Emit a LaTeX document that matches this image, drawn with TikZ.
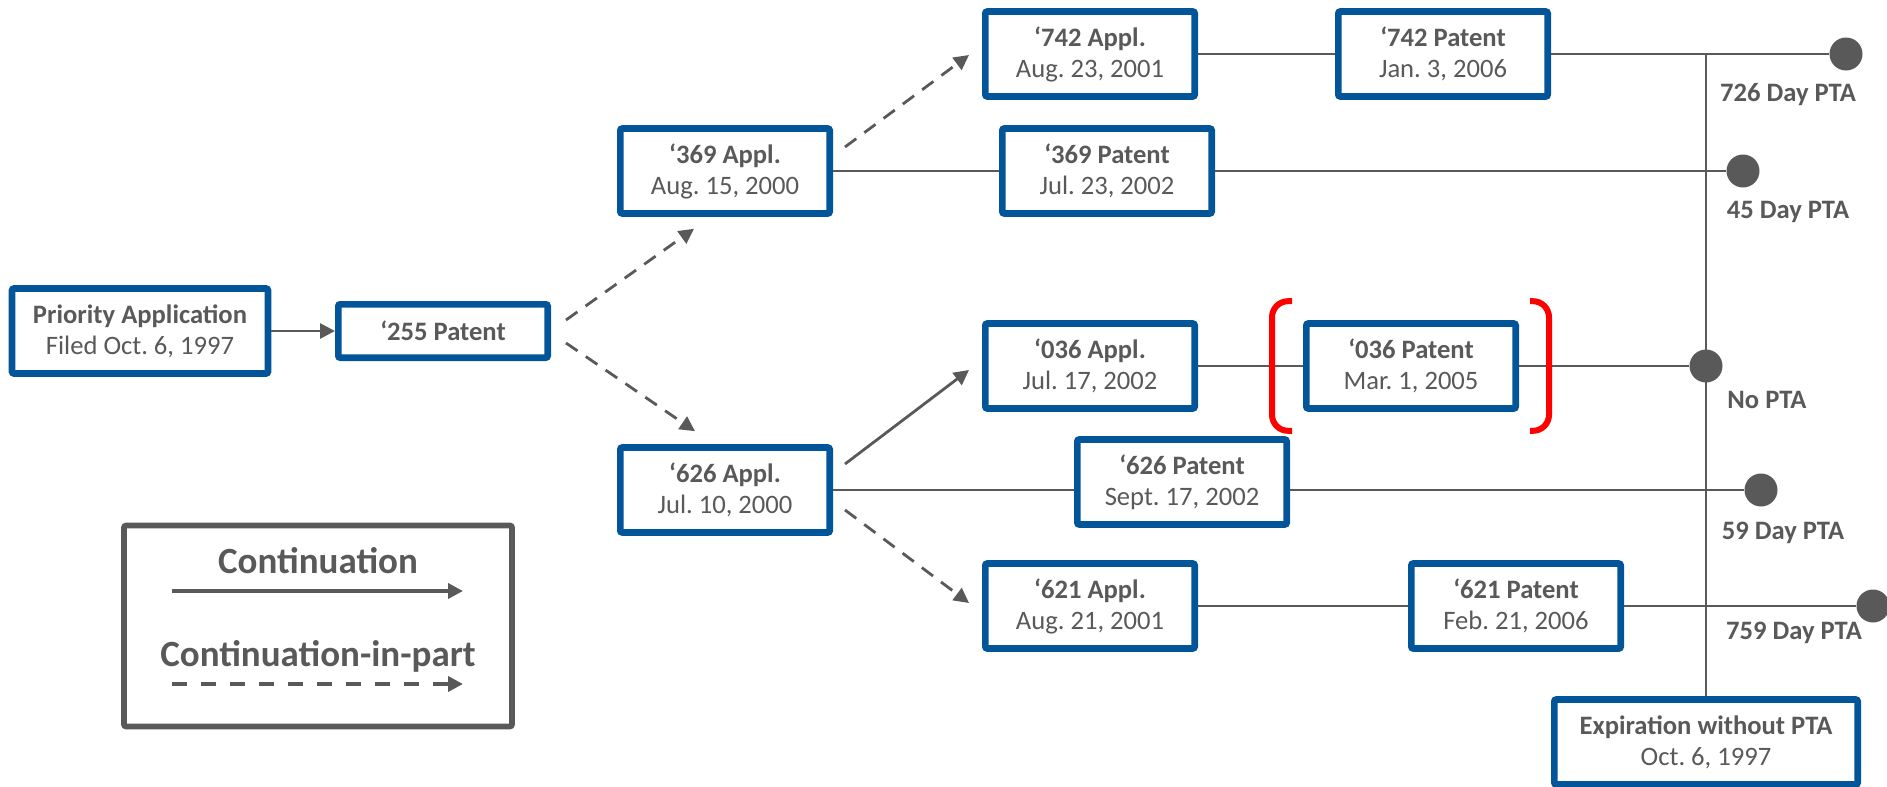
\documentclass[tikz,border=0pt]{standalone}
\usepackage{fontspec}
\setmainfont{Carlito}
\frenchspacing
\usetikzlibrary{arrows.meta,positioning}
\definecolor{pblue}{HTML}{03559A}
\definecolor{ink}{HTML}{595959}
\definecolor{redbr}{HTML}{FF0000}

\begin{document}
\begin{tikzpicture}[x=0.5pt,y=-0.5pt,font=\fontsize{13.3}{15.5}\selectfont,text=ink,
  box/.style={draw=pblue,line width=3.3pt,fill=white,rounded corners=1pt,align=center,
    minimum width=104.7pt,minimum height=42.5pt,inner sep=1pt},
  dot/.style={circle,fill=ink,minimum size=16.5pt,inner sep=0pt},
  pta/.style={font=\fontsize{13.3}{15.5}\selectfont\bfseries},
  link/.style={draw=ink,line width=1.4pt},
  cont/.style={link,-{Triangle[length=7.5pt,width=7.5pt]}},
  cip/.style={cont,dash pattern=on 7pt off 5pt},
  brack/.style={draw=redbr,line width=3pt,rounded corners=8pt}]
  \useasboundingbox (0,0) rectangle (1887,787);
  % left part: priority and the '255 patent
  \node[box,minimum width=128pt] (prio) at (140,331) {\textbf{Priority Application}\\Filed Oct. 6, 1997};
  \node[box,minimum height=26.7pt] (p255) at (443,331) {\textbf{‘255 Patent}};
  \node[box] (a369) at (725,171) {\textbf{‘369 Appl.}\\Aug. 15, 2000};
  \node[box] (a626) at (725,490) {\textbf{‘626 Appl.}\\Jul. 10, 2000};
  % applications and patents
  \node[box] (a742) at (1090,54) {\textbf{‘742 Appl.}\\Aug. 23, 2001};
  \node[box] (p742) at (1443,54) {\textbf{‘742 Patent}\\Jan. 3, 2006};
  \node[box] (p369) at (1107,171) {\textbf{‘369 Patent}\\Jul. 23, 2002};
  \node[box] (a036) at (1090,366) {\textbf{‘036 Appl.}\\Jul. 17, 2002};
  \node[box] (p036) at (1411,366) {\textbf{‘036 Patent}\\Mar. 1, 2005};
  \node[box] (p626) at (1182,482) {\textbf{‘626 Patent}\\Sept. 17, 2002};
  \node[box] (a621) at (1090,606) {\textbf{‘621 Appl.}\\Aug. 21, 2001};
  \node[box] (p621) at (1516,606) {\textbf{‘621 Patent}\\Feb. 21, 2006};
  \node[box,minimum width=151.7pt] (exp) at (1706,742) {\textbf{Expiration without PTA}\\Oct. 6, 1997};
  % end points with PTA
  \node[dot] (c742) at (1846,54) {};
  \node[dot] (c369) at (1743,171) {};
  \node[dot] (c036) at (1706,366) {};
  \node[dot] (c626) at (1761,490) {};
  \node[dot] (c621) at (1873,606) {};
  \node[pta] (l742) at (1788,95) {726 Day PTA};
  \node[pta] (l369) at (1788,212) {45 Day PTA};
  \node[pta] (l036) at (1767,400) {No PTA};
  \node[pta] (l626) at (1783,533) {59 Day PTA};
  \node[pta] (l621) at (1794,633) {759 Day PTA};
  % terms
  \draw[link] (exp.north) -- (exp.north |- c742);
  \draw[link] (a742) -- (p742); \draw[link] (p742) -- (c742);
  \draw[link] (a369) -- (p369); \draw[link] (p369) -- (c369);
  \draw[link] (a036) -- (p036); \draw[link] (p036) -- (c036);
  \draw[link] (a626.east) -- (a626.east -| p626.west); \draw[link] (p626.east |- a626.east) -- (c626);
  \draw[link] (a621) -- (p621); \draw[link] (p621) -- (c621);
  % family arrows
  \draw[cont] (prio) -- (p255);
  \draw[cip] ([shift={(15,-11)}]p255.east) -- ([shift={(-31,12)}]a369.south);
  \draw[cip] ([shift={(15,12)}]p255.east) -- ([shift={(-30,-13)}]a626.north);
  \draw[cip] ([shift={(12,-24)}]a369.east) -- ([shift={(-13,1)}]a742.west);
  \draw[cont] ([shift={(12,-26)}]a626.east) -- ([shift={(-13,4)}]a036.west);
  \draw[cip] ([shift={(12,20)}]a626.east) -- ([shift={(-13,-3)}]a621.west);
  % red brackets round the '036 patent
  \draw[brack] ([shift={(-11,-19)}]p036.north west) -- ([shift={(-31,-19)}]p036.north west)
    -- ([shift={(-31,19)}]p036.south west) -- ([shift={(-11,19)}]p036.south west);
  \draw[brack] ([shift={(11,-19)}]p036.north east) -- ([shift={(30,-19)}]p036.north east)
    -- ([shift={(30,19)}]p036.south east) -- ([shift={(11,19)}]p036.south east);
  % legend
  \node[draw=ink,line width=2.8pt,rounded corners=1pt,minimum width=194pt,minimum height=100.5pt] (legend) at (318,626) {};
  \node[font=\fontsize{18.5}{22}\selectfont\bfseries] (tcont) at (318,561) {Continuation};
  \node[font=\fontsize{18.5}{22}\selectfont\bfseries] (tcip) at (318,656) {Continuation-in-part};
  \coordinate (s1) at (172,591); \coordinate (e1) at (463,591);
  \coordinate (s2) at (172,684); \coordinate (e2) at (463,684);
  \draw[cont,line width=1.8pt] (s1) -- (e1);
  \draw[cip,line width=1.8pt,dash pattern=on 7.5pt off 7pt] (s2) -- (e2);
\end{tikzpicture}
\end{document}
